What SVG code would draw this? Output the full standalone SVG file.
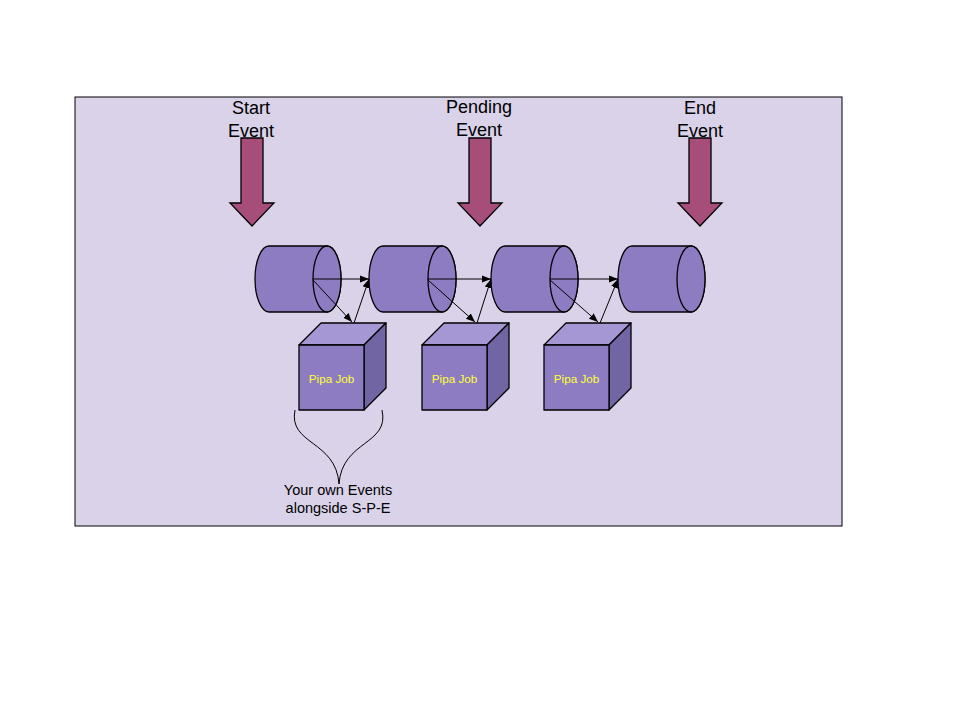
<svg xmlns="http://www.w3.org/2000/svg" width="960" height="720" viewBox="0 0 960 720">
<defs>
<style>
.bg{fill:#d9d2e9;stroke:#000;stroke-width:1}
.cyl{fill:#8e7cc3;stroke:#000;stroke-width:1.3}
.front{fill:#8e7cc3;stroke:#000;stroke-width:1.3;stroke-linejoin:round}
.top{fill:#a597d3;stroke:#000;stroke-width:1.3;stroke-linejoin:round}
.side{fill:#7265a3;stroke:#000;stroke-width:1.3;stroke-linejoin:round}
.big{fill:#a64d79;stroke:#000;stroke-width:1.3;stroke-linejoin:miter}
.lbl{font-family:"Liberation Sans",Arial,sans-serif;font-size:18px;fill:#000;text-anchor:middle}
.job{font-family:"Liberation Sans",Arial,sans-serif;font-size:11.7px;fill:#ffff33;text-anchor:middle}
.note{font-family:"Liberation Sans",Arial,sans-serif;font-size:14.5px;fill:#000;text-anchor:middle}
.conn{fill:none;stroke:#000;stroke-width:1}
</style>
<marker id="ah" viewBox="0 0 10 10" refX="10" refY="5" markerWidth="9" markerHeight="9" markerUnits="userSpaceOnUse" orient="auto">
<path d="M0,1 L10,5 L0,9 z" fill="#000"/>
</marker>
</defs>
<rect class="bg" x="75" y="97" width="767" height="429"/>

<g id="start-event">
<path class="big" d="M241,138 H263 V203 H274 L252,226 L230,203 H241 Z"/>
<text class="lbl" x="251" y="114">Start</text>
<text class="lbl" x="251" y="137">Event</text>
</g>
<g id="pending-event">
<path class="big" d="M469,138 H491 V203 H502 L480,226 L458,203 H469 Z"/>
<text class="lbl" x="479" y="113">Pending</text>
<text class="lbl" x="479" y="136">Event</text>
</g>
<g id="end-event">
<path class="big" d="M689,138 H711 V203 H722 L700,226 L678,203 H689 Z"/>
<text class="lbl" x="700" y="114">End</text>
<text class="lbl" x="700" y="137">Event</text>
</g>

<g id="cyl1">
<path class="cyl" d="M269,246 H327 A14,33 0 0 1 327,312 H269 A14,33 0 0 1 269,246 Z"/>
<ellipse class="cyl" cx="327" cy="279" rx="14" ry="33"/>
</g>
<g id="cyl2">
<path class="cyl" d="M383,246 H442 A14,33 0 0 1 442,312 H383 A14,33 0 0 1 383,246 Z"/>
<ellipse class="cyl" cx="442" cy="279" rx="14" ry="33"/>
</g>
<g id="cyl3">
<path class="cyl" d="M505,246 H564 A14,33 0 0 1 564,312 H505 A14,33 0 0 1 505,246 Z"/>
<ellipse class="cyl" cx="564" cy="279" rx="14" ry="33"/>
</g>
<g id="cyl4">
<path class="cyl" d="M632,246 H691 A14,33 0 0 1 691,312 H632 A14,33 0 0 1 632,246 Z"/>
<ellipse class="cyl" cx="691" cy="279" rx="14" ry="33"/>
</g>

<g id="job1">
<polygon class="top" points="299,345 321,323 386,323 364,345"/>
<polygon class="side" points="364,345 386,323 386,388 364,410"/>
<rect class="front" x="299" y="345" width="65" height="65"/>
<text class="job" x="331.5" y="383">Pipa Job</text>
</g>
<g id="job2">
<polygon class="top" points="422,345 444,323 509,323 487,345"/>
<polygon class="side" points="487,345 509,323 509,388 487,410"/>
<rect class="front" x="422" y="345" width="65" height="65"/>
<text class="job" x="454.5" y="383">Pipa Job</text>
</g>
<g id="job3">
<polygon class="top" points="544,345 566,323 631,323 609,345"/>
<polygon class="side" points="609,345 631,323 631,388 609,410"/>
<rect class="front" x="544" y="345" width="65" height="65"/>
<text class="job" x="576.5" y="383">Pipa Job</text>
</g>

<g id="connectors">
<line class="conn" x1="313" y1="279" x2="369" y2="279" marker-end="url(#ah)"/>
<line class="conn" x1="313" y1="280" x2="352" y2="322" marker-end="url(#ah)"/>
<line class="conn" x1="354" y1="323" x2="369" y2="279" marker-end="url(#ah)"/>
<line class="conn" x1="428" y1="279" x2="491" y2="279" marker-end="url(#ah)"/>
<line class="conn" x1="428" y1="280" x2="475" y2="322" marker-end="url(#ah)"/>
<line class="conn" x1="477" y1="323" x2="491" y2="279" marker-end="url(#ah)"/>
<line class="conn" x1="550" y1="279" x2="618" y2="279" marker-end="url(#ah)"/>
<line class="conn" x1="550" y1="280" x2="598" y2="322" marker-end="url(#ah)"/>
<line class="conn" x1="600" y1="323" x2="618" y2="279" marker-end="url(#ah)"/>
</g>

<g id="brace">
<path class="conn" d="M295,410 C288,445 336,440 339,484 C342,440 390,445 382,410"/>
<text class="note" x="338" y="495">Your own Events</text>
<text class="note" x="338" y="513">alongside S-P-E</text>
</g>
</svg>
